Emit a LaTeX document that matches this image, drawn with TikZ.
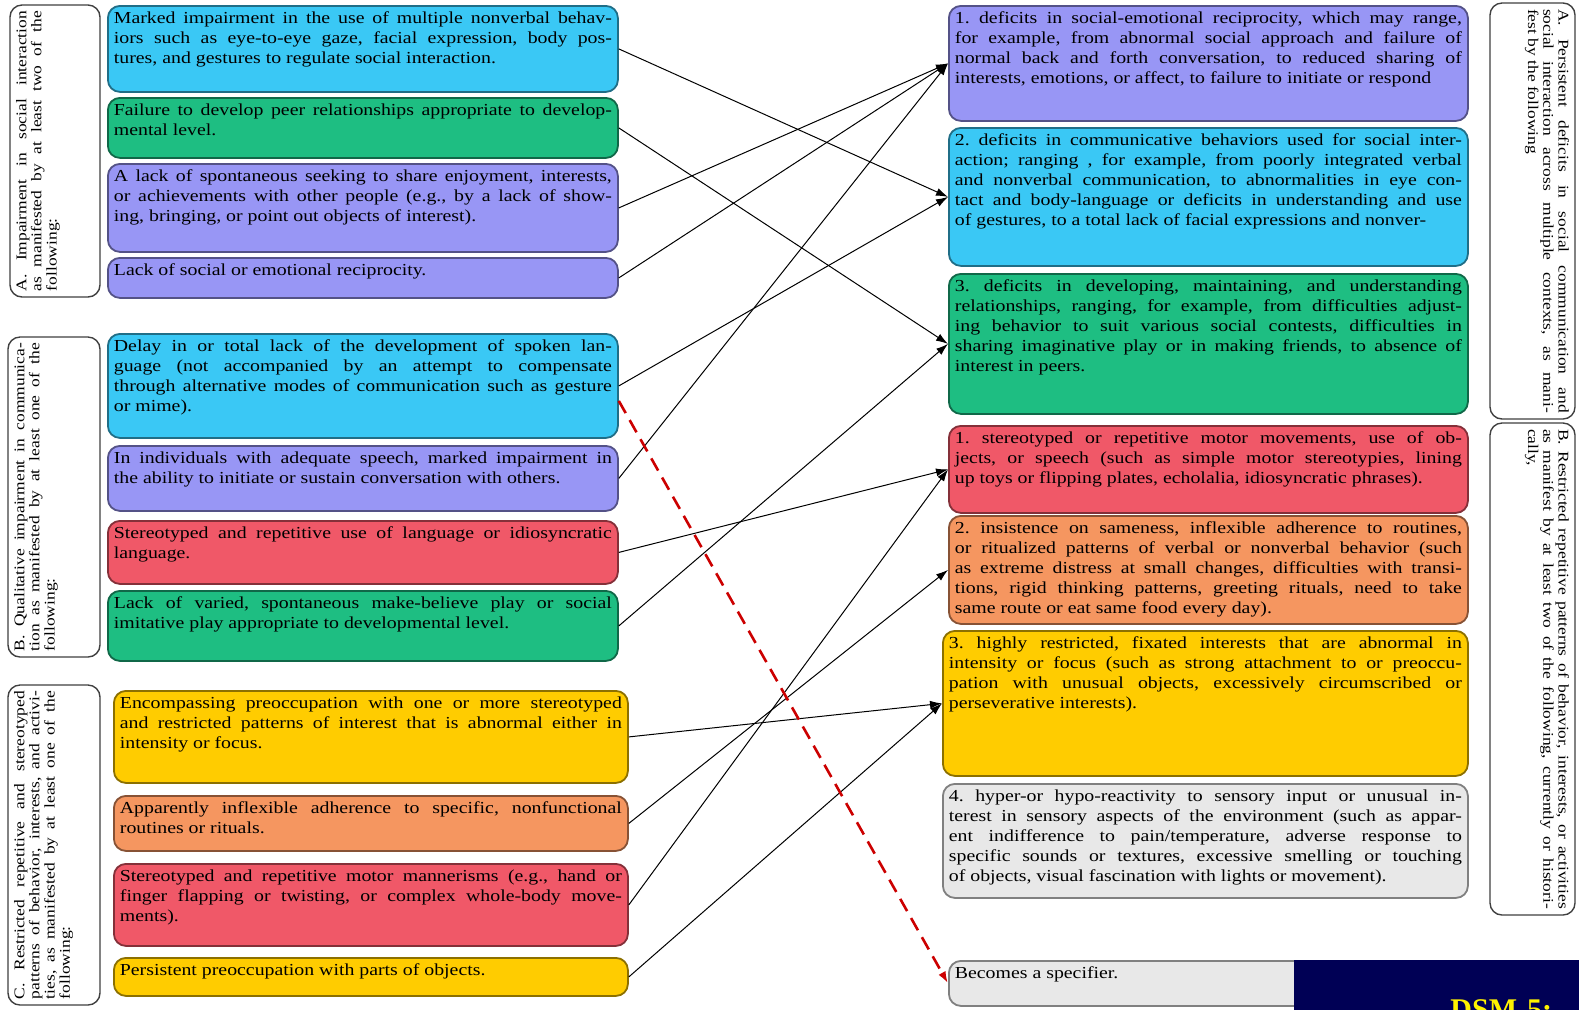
\documentclass[tikz,border=0pt]{standalone}
\usepackage{fontspec}
\setmainfont{Liberation Serif}
\newfontfamily\critfamily{Liberation Serif}[FakeStretch=1.18]
\usetikzlibrary{calc,arrows.meta}
\frenchspacing

\definecolor{critcyan}{RGB}{58,200,245}
\definecolor{critgreen}{RGB}{30,190,130}
\definecolor{critpurple}{RGB}{152,150,245}
\definecolor{critred}{RGB}{240,88,104}
\definecolor{critorange}{RGB}{245,150,96}
\definecolor{crityellow}{RGB}{255,204,0}
\definecolor{critgray}{RGB}{232,232,232}
\definecolor{dsmnavy}{RGB}{0,0,85}

\def \critFont {\critfamily\fontsize{8.4}{10}\selectfont\frenchspacing}
\def \groupFont {\critfamily\fontsize{7.4}{7.6}\selectfont\frenchspacing}
\newcommand{\boxtext}[3]{\parbox[t][#2pt][t]{#1pt}{#3}}

\tikzset{
  crit/.style={draw=#1!55!black, fill=#1, line width=0.9pt, rounded corners=6pt,
    anchor=north west, inner sep=3pt, font=\critFont},
  grouplabel/.style={draw=black!75, fill=white, line width=0.7pt, rounded corners=6pt,
    inner sep=3pt, font=\groupFont},
  conn/.style={-{Latex[length=6pt,width=4pt]}, line width=0.5pt},
  spec/.style={-{Latex[length=6pt,width=4pt]}, dash pattern=on 7pt off 4pt,
    line width=1.3pt, red!80!black}
}

\begin{document}
\begin{tikzpicture}[x=0.5pt, y=-0.5pt]
  \useasboundingbox (0,0) rectangle (1579,1009);
  \clip (0,0) rectangle (1579,1009);
  \fill[white] (0,0) rectangle (1579,1009);

  % group labels, left
  \node[grouplabel, rotate=90] (lA) at (55,151) {\boxtext{140}{39}{A. Impairment in social interaction \linebreak as manifested by at least two of the \linebreak following:}};
  \node[grouplabel, rotate=90] (lB) at (54,497) {\boxtext{154}{40}{B. Qualitative impairment in communica-\linebreak tion as manifested by at least one of the \linebreak following:}};
  \node[grouplabel, rotate=90] (lC) at (54,845) {\boxtext{154}{40}{C. Restricted repetitive and stereotyped \linebreak patterns of behavior, interests, and activi-\linebreak ties, as manifested by at least one of the \linebreak following:}};

  % group labels, right
  \node[grouplabel, rotate=-90] (rA) at (1532.5,211) {\boxtext{202}{36.5}{A. Persistent deficits in social communication and \linebreak social interaction across multiple contexts, as mani-\linebreak fest by the following}};
  \node[grouplabel, rotate=-90] (rB) at (1532.5,669) {\boxtext{240}{36.5}{B. Restricted repetitive patterns of behavior, interests, or activities \linebreak as manifest by at least two of the following, currently or histori-\linebreak cally,}};

  % left column
  \node[crit=critcyan] (b1) at (107,5) {\boxtext{249}{37}{Marked impairment in the use of multiple nonverbal behav-\linebreak iors such as eye-to-eye gaze, facial expression, body pos-\linebreak tures, and gestures to regulate social interaction.}};
  \node[crit=critgreen] (b2) at (107,97) {\boxtext{249}{24}{Failure to develop peer relationships appropriate to develop-\linebreak mental level.}};
  \node[crit=critpurple] (b3) at (107,163) {\boxtext{249}{38}{A lack of spontaneous seeking to share enjoyment, interests, \linebreak or achievements with other people (e.g., by a lack of show-\linebreak ing, bringing, or point out objects of interest).}};
  \node[crit=critpurple] (b4) at (107,257) {\boxtext{249}{14}{Lack of social or emotional reciprocity.}};
  \node[crit=critcyan] (b5) at (107,333) {\boxtext{249}{46}{Delay in or total lack of the development of spoken lan-\linebreak guage (not accompanied by an attempt to compensate \linebreak through alternative modes of communication such as gesture \linebreak or mime).}};
  \node[crit=critpurple] (b6) at (107,445) {\boxtext{249}{26.5}{In individuals with adequate speech, marked impairment in \linebreak the ability to initiate or sustain conversation with others.}};
  \node[crit=critred] (b7) at (107,520) {\boxtext{249}{25.5}{Stereotyped and repetitive use of language or idiosyncratic \linebreak language.}};
  \node[crit=critgreen] (b8) at (107,590) {\boxtext{249}{29}{Lack of varied, spontaneous make-believe play or social \linebreak imitative play appropriate to developmental level.}};
  \node[crit=crityellow] (b9) at (113,690) {\boxtext{251}{40}{Encompassing preoccupation with one or more stereotyped \linebreak and restricted patterns of interest that is abnormal either in \linebreak intensity or focus.}};
  \node[crit=critorange] (b10) at (113,795) {\boxtext{251}{21.5}{Apparently inflexible adherence to specific, nonfunctional \linebreak routines or rituals.}};
  \node[crit=critred] (b11) at (113,863) {\boxtext{251}{35}{Stereotyped and repetitive motor mannerisms (e.g., hand or \linebreak finger flapping or twisting, or complex whole-body move-\linebreak ments).}};
  \node[crit=crityellow] (b12) at (113,957) {\boxtext{251}{13}{Persistent preoccupation with parts of objects.}};

  % right column
  \node[crit=critpurple] (r1) at (948,5) {\boxtext{253.5}{51.5}{1. deficits in social-emotional reciprocity, which may range, \linebreak for example, from abnormal social approach and failure of \linebreak normal back and forth conversation, to reduced sharing of \linebreak interests, emotions, or affect, to failure to initiate or respond}};
  \node[crit=critcyan] (r2) at (948,127) {\boxtext{253.5}{63}{2. deficits in communicative behaviors used for social inter-\linebreak action; ranging , for example, from poorly integrated verbal \linebreak and nonverbal communication, to abnormalities in eye con-\linebreak tact and body-language or deficits in understanding and use \linebreak of gestures, to a total lack of facial expressions and nonver-}};
  \node[crit=critgreen] (r3) at (948,273) {\boxtext{253.5}{64}{3. deficits in developing, maintaining, and understanding \linebreak relationships, ranging, for example, from difficulties adjust-\linebreak ing behavior to suit various social contests, difficulties in \linebreak sharing imaginative play or in making friends, to absence of \linebreak interest in peers.}};
  \node[crit=critred] (r4) at (948,425) {\boxtext{253.5}{37.5}{1. stereotyped or repetitive motor movements, use of ob-\linebreak jects, or speech (such as simple motor stereotypies, lining \linebreak up toys or flipping plates, echolalia, idiosyncratic phrases).}};
  \node[crit=critorange] (r5) at (948,515) {\boxtext{253.5}{48}{2. insistence on sameness, inflexible adherence to routines, \linebreak or ritualized patterns of verbal or nonverbal behavior (such \linebreak as extreme distress at small changes, difficulties with transi-\linebreak tions, rigid thinking patterns, greeting rituals, need to take \linebreak same route or eat same food every day).}};
  \node[crit=crityellow] (r6) at (942,630) {\boxtext{256.5}{66.5}{3. highly restricted, fixated interests that are abnormal in \linebreak intensity or focus (such as strong attachment to or preoccu-\linebreak pation with unusual objects, excessively circumscribed or \linebreak perseverative interests).}};
  \node[crit=critgray] (r7) at (942,783) {\boxtext{256.5}{51}{4. hyper-or hypo-reactivity to sensory input or unusual in-\linebreak terest in sensory aspects of the environment (such as appar-\linebreak ent indifference to pain/temperature, adverse response to \linebreak specific sounds or textures, excessive smelling or touching \linebreak of objects, visual fascination with lights or movement).}};
  \node[crit=critgray] (r8) at (948,960) {\boxtext{180}{16.5}{Becomes a specifier.}};

  % links
  \foreach \from/\to in {b1/r2, b2/r3, b3/r1, b4/r1, b5/r2, b6/r1, b7/r4, b8/r3, b9/r6, b10/r5, b11/r4, b12/r6}
    \draw[conn] (\from.east) -- (\to.west);
  \draw[spec] ($(b5.east)+(0,15)$) -- (r8.west);

  % title strip
  \node[fill=dsmnavy, anchor=north west, minimum width=142.5pt, minimum height=30pt, inner sep=0pt] (dsm) at (1294,960) {};
  \node[anchor=base west, inner sep=0pt, text=yellow, font=\bfseries\fontsize{15}{15}\selectfont] (dsmtitle) at (1450,1019) {DSM-5:};
\end{tikzpicture}
\end{document}
